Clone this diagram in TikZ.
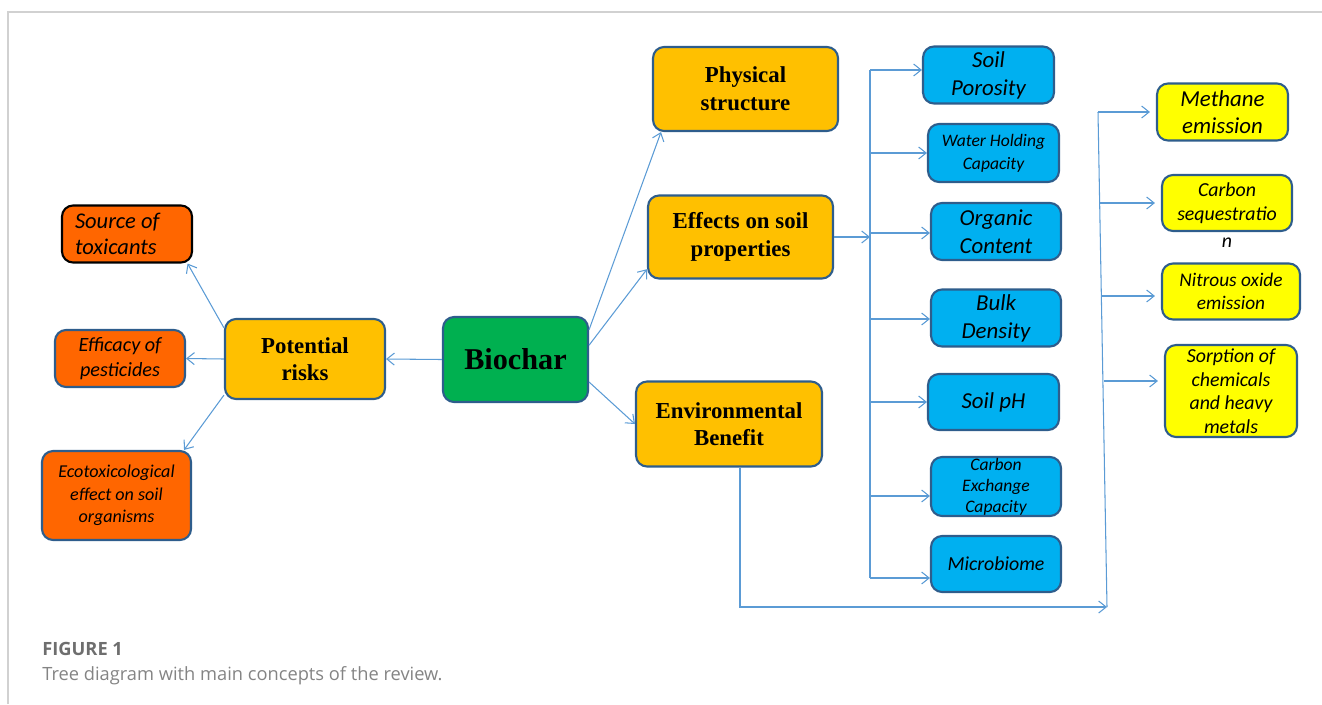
\documentclass[tikz,border=0pt]{standalone}
\usepackage{fontspec}
\setmainfont{Liberation Serif}
\newfontfamily\calibri{Carlito}
\newfontfamily\capfont{Open Sans}
\usetikzlibrary{arrows.meta}

\definecolor{boxline}{HTML}{2E5D8C}
\definecolor{conline}{HTML}{5B9BD5}
\definecolor{gold}{HTML}{FFC000}
\definecolor{rust}{HTML}{FF6600}
\definecolor{leaf}{HTML}{00B050}
\definecolor{sky}{HTML}{00B0F0}
\definecolor{lemon}{HTML}{FFFF00}
\definecolor{capgray}{HTML}{6E6E6E}

\newcommand{\fsz}[2]{\fontsize{#1}{#2}\selectfont}

\begin{document}
\begin{tikzpicture}[x=0.02cm, y=-0.02cm,
  >={Straight Barb[length=1.5mm,width=2.4mm]},
  basebox/.style={draw=boxline, line width=1.2pt, rounded corners=0.22cm, inner sep=0pt, align=center},
  mainbox/.style={basebox, fill=gold, font=\bfseries\fsz{13}{15.7}},
  riskbox/.style={basebox, fill=rust, font=\calibri\itshape},
  propbox/.style={basebox, fill=sky, font=\calibri\itshape\fsz{13}{16}},
  gasbox/.style={basebox, fill=lemon, font=\calibri\itshape\fsz{11.3}{13.4}},
  con/.style={draw=conline, line width=0.6pt}]

  \useasboundingbox (0,0) rectangle (1322,704);
  % frame of the figure panel
  \draw[black!18, line width=0.9pt] (8,704) -- (8,12) -- (1322,12);

  % centre and first level
  \node[basebox, fill=leaf, font=\bfseries\fsz{17.2}{20}, minimum width=2.9cm, minimum height=1.7cm] (bio) at (515.5,359.5) {Biochar};
  \node[mainbox, minimum width=3.2cm, minimum height=1.6cm] (risk) at (305,359) {Potential\\risks};
  \node[mainbox, minimum width=3.7cm, minimum height=1.68cm] (phys) at (745.5,89) {Physical\\structure};
  \node[mainbox, minimum width=3.7cm, minimum height=1.66cm] (soil) at (740.5,237) {Effects on soil\\properties};
  \node[mainbox, minimum width=3.72cm, minimum height=1.7cm] (env) at (729,424) {Environmental\\Benefit};

  % risks
  \node[riskbox, draw=black, align=flush left, text width=2.08cm, font=\calibri\itshape\fsz{12.8}{15}, minimum width=2.6cm, minimum height=1.14cm] (src) at (127,234) {Source of\\toxicants};
  \node[riskbox, font=\calibri\itshape\fsz{11.5}{14}, minimum width=2.6cm, minimum height=1.14cm] (eff) at (120,358.5) {Efficacy of\\pesticides};
  \node[riskbox, font=\calibri\itshape\fsz{10.3}{12.8}, minimum width=2.98cm, minimum height=1.78cm] (eco) at (116.5,495.5) {Ecotoxicological\\effect on soil\\organisms};

  % soil properties
  \node[propbox, minimum width=2.62cm, minimum height=1.14cm] (por) at (988.5,75) {Soil\\Porosity};
  \node[propbox, font=\calibri\itshape\fsz{10}{12.9}, minimum width=2.62cm, minimum height=1.16cm] (whc) at (993.5,153) {Water Holding\\Capacity};
  \node[propbox, minimum width=2.6cm, minimum height=1.14cm] (org) at (996,231.5) {Organic\\Content};
  \node[propbox, minimum width=2.6cm, minimum height=1.14cm] (bulk) at (996,318) {Bulk\\Density};
  \node[propbox, minimum width=2.62cm, minimum height=1.12cm] (ph) at (993.5,402) {Soil pH};
  \node[propbox, font=\calibri\itshape\fsz{10}{12}, minimum width=2.6cm, minimum height=1.18cm] (cec) at (996,486.5) {Carbon\\Exchange\\Capacity};
  \node[propbox, font=\calibri\itshape\fsz{11.3}{13}, minimum width=2.6cm, minimum height=1.12cm] (micro) at (996,564) {Microbiome};

  % environmental benefits
  \node[gasbox, font=\calibri\itshape\fsz{13}{15.2}, minimum width=2.62cm, minimum height=1.14cm] (meth) at (1222.5,112) {Methane\\emission};
  \node[gasbox, minimum width=2.6cm, minimum height=1.12cm,
    label={[font=\calibri\itshape\fsz{11.3}{13.4}, inner sep=0pt, label distance=0.1cm]below:n}] (cseq) at (1227,203) {Carbon\\sequestratio};
  \node[gasbox, font=\calibri\itshape\fsz{11}{13.2}, minimum width=2.76cm, minimum height=1.12cm] (n2o) at (1231,291.5) {Nitrous oxide\\emission};
  \node[gasbox, minimum width=2.64cm, minimum height=1.84cm] (sorp) at (1231,391) {Sorption of\\chemicals\\and heavy\\metals};

  % connectors from the centre
  \draw[con, ->] (bio.west) -- (risk.east);
  \draw[con, ->] (bio.22) -- (phys.207);
  \draw[con, ->] (bio.11) -- (soil.199);
  \draw[con, ->] (bio.343) -- (env.west);
  \draw[con, ->] (risk.159) -- (src.334);
  \draw[con, ->] (risk.west) -- (eff.east);
  \draw[con, ->] (risk.204) -- (eco.34);

  % bus to the soil properties
  \coordinate (sbus) at (870,237);
  \draw[con, ->] (soil.east) -- (sbus);
  \foreach \n/\y in {por/70, whc/153, org/233, bulk/319, ph/402, cec/496, micro/578}{
    \coordinate (s-\n) at (870,\y);
    \draw[con, ->] (s-\n) -- (s-\n -| \n.west);
  }
  \draw[con] (s-por) -- (s-micro);

  % bus to the environmental benefits
  \coordinate (gtop) at (1098,112);
  \coordinate (gbot) at (1107,607);
  \coordinate (edrop) at (740,607);
  \draw[con] (gtop) -- (gbot);
  \draw[con, ->] (edrop |- env.south) -- (edrop) -- (gbot);
  \foreach \n/\x/\y in {meth/1098/112, cseq/1100/203, n2o/1102/296, sorp/1104/381}{
    \coordinate (g-\n) at (\x,\y);
    \draw[con, ->, shorten >=0.12cm] (g-\n) -- (g-\n -| \n.west);
  }

  % caption
  \node[anchor=base west, inner sep=0pt, text=capgray, font=\capfont\bfseries\fsz{10.4}{12}] (figno) at (42,655) {FIGURE 1};
  \node[anchor=base west, inner sep=0pt, text=capgray!85, font=\capfont\fsz{10.4}{12}] (figcap) at (42,680) {Tree diagram with main concepts of the review.};
\end{tikzpicture}
\end{document}
